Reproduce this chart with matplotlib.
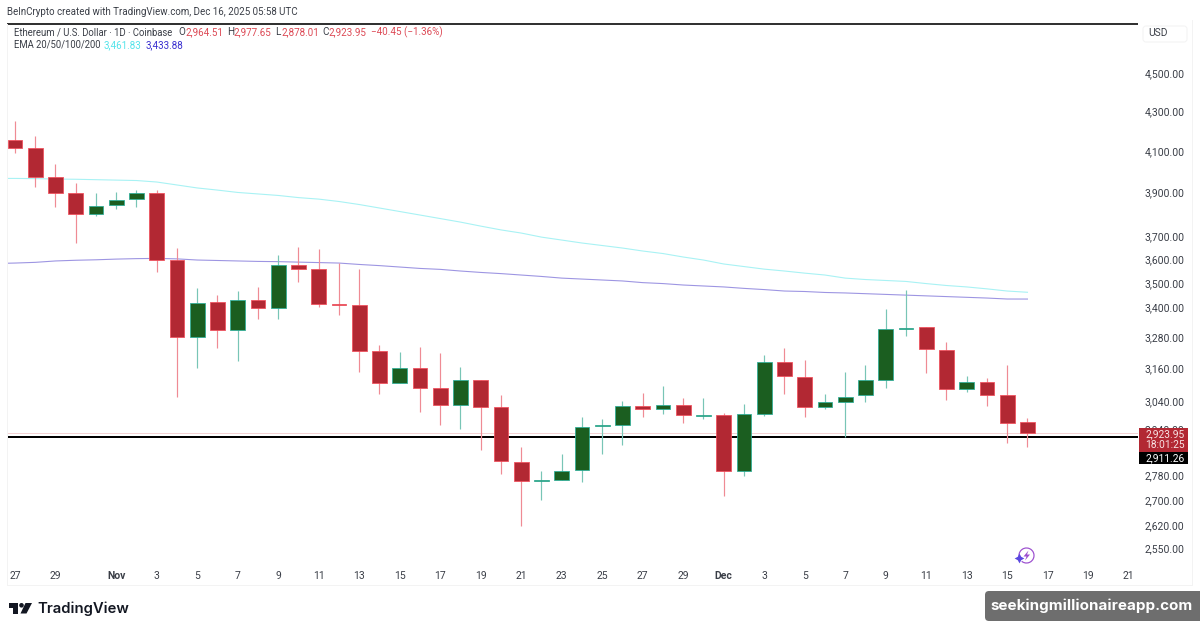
import matplotlib
matplotlib.use('Agg')
import matplotlib.pyplot as plt
from matplotlib.patches import Rectangle, FancyBboxPatch, Polygon, Arc, Circle

plt.rcParams['font.family'] = ['Roboto', 'DejaVu Sans']

# daily candles, 27 Oct = day 0
opens = [4154, 4114, 3974, 3898, 3802, 3843, 3870, 3898, 3598, 3281, 3422, 3309, 3430, 3397, 3577, 3559, 3414,
         3409, 3227, 3106, 3162, 3087, 3025, 3117, 3018, 2825, 2762, 2765, 2798, 2950, 2953, 3021, 3010, 3025,
         2987, 2989, 2795, 2993, 3185, 3128, 3018, 3036, 3061, 3117, 3313, 3321, 3231, 3084, 3110, 3061, 2964.51]
highs = [4249, 4173, 4036, 3945, 3898, 3903, 3912, 3912, 3650, 3480, 3450, 3467, 3484, 3619, 3654, 3645, 3585,
         3559, 3250, 3223, 3242, 3219, 3166, 3117, 3061, 2877, 2795, 2853, 2982, 2975, 3040, 3069, 3095, 3050,
         3050, 2996, 3029, 3211, 3238, 3192, 3065, 3147, 3173, 3393, 3471, 3321, 3262, 3132, 3125, 3173, 2977.65]
lows = [4089, 3926, 3834, 3672, 3793, 3824, 3834, 3547, 3054, 3162, 3238, 3188, 3353, 3353, 3505, 3401, 3369,
        3147, 3065, 3106, 3000, 2953, 2939, 2866, 2785, 2617, 2700, 2765, 2759, 2853, 2884, 2982, 2993, 2960,
        2975, 2713, 2779, 2985, 3065, 2982, 3010, 2911, 3036, 3087, 3285, 3143, 3043, 3073, 3021, 2890, 2878.01]
closes = [4114, 3974, 3898, 3802, 3838, 3866, 3898, 3598, 3281, 3418, 3309, 3430, 3397, 3577, 3559, 3414, 3409,
          3227, 3106, 3162, 3087, 3025, 3117, 3018, 2829, 2762, 2765, 2795, 2946, 2953, 3021, 3010, 3025, 2989,
          2989, 2795, 2993, 3185, 3132, 3018, 3036, 3054, 3117, 3313, 3317, 3235, 3084, 3110, 3061, 2960, 2923.95]

# one extra value in front, day -1 runs off the left edge
ema_cyan = [3967, 3967, 3966, 3964, 3963, 3961, 3959, 3957, 3950, 3936, 3922, 3912, 3901, 3894, 3887, 3877, 3870,
            3859, 3845, 3829, 3813, 3797, 3781, 3765, 3747, 3730, 3716, 3698, 3685, 3672, 3661, 3650, 3637, 3626,
            3611, 3598, 3581, 3570, 3559, 3551, 3542, 3534, 3521, 3515, 3511, 3507, 3498, 3490, 3484, 3476, 3467, 3461.83]
ema_blue = [3583, 3585, 3588, 3594, 3597, 3599, 3602, 3604, 3605, 3603, 3598, 3596, 3594, 3592, 3591, 3589, 3587,
            3585, 3579, 3574, 3568, 3562, 3558, 3551, 3545, 3540, 3534, 3528, 3521, 3517, 3513, 3509, 3502, 3498,
            3492, 3488, 3484, 3478, 3473, 3467, 3465, 3461, 3459, 3456, 3453, 3450, 3447, 3444, 3441, 3438, 3434, 3433.88]

last_price = 2923.95
black_level = 2911.26

price_ticks = [2550, 2620, 2700, 2780, 2940, 3040, 3160, 3280, 3400, 3500, 3600, 3700, 3900, 4100, 4300, 4500]
date_ticks = [0, 2] + list(range(5, 56, 2))
date_labels = ['27', '29', 'Nov', '3', '5', '7', '9', '11', '13', '15', '17', '19', '21', '23', '25', '27', '29',
               'Dec', '3', '5', '7', '9', '11', '13', '15', '17', '19', '21']

W, H = 1200, 631
RED, RED_EDGE, RED_WICK = '#b22833', '#f0505c', '#ef8b94'
GREEN, GREEN_EDGE, GREEN_WICK = '#1b5e20', '#2fae98', '#78c5b6'
TXT = '#3a3e47'
PX = 0.72  # one pixel in points

fig = plt.figure(figsize=(W / 100, H / 100), dpi=100, facecolor='white')
ax = fig.add_axes([7 / W, 1 - 563 / H, 1131 / W, 539 / H])
ax.set_yscale('log')
ax.set_xlim(-0.395, 55.46)
ax.set_ylim(2504, 4772)
for s in ax.spines.values():
    s.set_visible(False)

ax.axhline(last_price, color='#e9a6ab', lw=PX, ls=(0, (1, 1)), zorder=1)
ax.axhline(black_level, color='black', lw=2 * PX, zorder=1.5)

ema_days = list(range(-1, len(ema_cyan) - 1))
ax.plot(ema_days, ema_cyan, color='#a8f2f4', lw=1.1 * PX, zorder=2)
ax.plot(ema_days, ema_blue, color='#9d95e2', lw=1.1 * PX, zorder=2)

days = list(range(len(opens)))
up = [c >= o for o, c in zip(opens, closes)]
ax.vlines(days, lows, highs, colors=[GREEN_WICK if u else RED_WICK for u in up], lw=1.2 * PX, zorder=3)
ax.bar(days, [abs(c - o) for o, c in zip(opens, closes)], bottom=[min(o, c) for o, c in zip(opens, closes)],
       width=0.73, color=[GREEN if u else RED for u in up],
       edgecolor=[GREEN_EDGE if u else RED_EDGE for u in up], linewidth=0.8 * PX, zorder=4)

ax.minorticks_off()
ax.yaxis.tick_right()
ax.set_yticks(price_ticks)
ax.set_yticklabels([f'{p:,.2f}' for p in price_ticks])
ax.tick_params(axis='y', which='both', length=0, pad=5, labelsize=7.5, labelcolor=TXT)
ax.minorticks_off()
ax.set_xticks(date_ticks)
ax.set_xticklabels(date_labels)
ax.tick_params(axis='x', length=0, pad=6, labelsize=7.5, labelcolor=TXT)
for lab in ax.get_xticklabels():
    if lab.get_text() in ('Nov', 'Dec'):
        lab.set_fontweight('bold')

# overlay in image pixels for the header, price tags and logos
ov = fig.add_axes([0, 0, 1, 1], zorder=5)
ov.set_xlim(0, W)
ov.set_ylim(H, 0)
ov.axis('off')

ov.plot([7, 1138], [23.5, 23.5], color='black', lw=1.6 * PX, solid_capstyle='butt')
ov.plot([7, 7], [24, 585], color='#f3f3f3', lw=PX)
ov.plot([7, 1192, 1192], [585, 585, 20], color='#f3f3f3', lw=PX)

ov.text(7, 12, 'BeInCrypto created with TradingView.com, Dec 16, 2025 05:58 UTC', fontsize=7.0, color=TXT, va='center')

y1, y2 = 32, 45
ov.text(13.5, y1, 'Ethereum / U.S. Dollar · 1D · Coinbase', fontsize=6.85, color=TXT, va='center')
ov.text(13.5, y2, 'EMA 20/50/100/200', fontsize=6.85, color=TXT, va='center')
legend_bits = [(178, 'O', TXT), (185.5, '2,964.51', '#dd4a56'), (227, 'H', TXT), (234, '2,977.65', '#dd4a56'),
               (275, 'L', TXT), (281, '2,878.01', '#dd4a56'), (322, 'C', TXT), (328.5, '2,923.95', '#dd4a56'),
               (371, '−40.45 (−1.36%)', '#dd4a56')]
for x, s, c in legend_bits:
    ov.text(x, y1, s, fontsize=7.1, color=c, va='center')
ov.text(104, y2, '3,461.83', fontsize=7.1, color='#55e4ea', va='center')
ov.text(146, y2, '3,433.88', fontsize=7.1, color='#3a30d0', va='center')

ov.add_patch(FancyBboxPatch((1143, 26), 44, 16, boxstyle='round,pad=0,rounding_size=3', fc='white', ec='#f3f3f3', lw=PX))
ov.text(1148, 33, 'USD', fontsize=7.4, color=TXT, va='center')

ov.add_patch(Rectangle((1139, 428), 49, 24, fc=RED, ec='none'))
ov.add_patch(Rectangle((1139, 452), 49, 12, fc='black', ec='none'))
ov.text(1145, 434, '2,923.95', fontsize=7.4, color='#f8e4e5', va='center')
ov.text(1145, 445, '18:01:25', fontsize=7.4, color='#f8e4e5', va='center')
ov.text(1145, 458, '2,911.26', fontsize=7.4, color='white', va='center')

# TradingView mark
ov.add_patch(Polygon([(9, 603), (18, 603), (18, 613.5), (13, 613.5), (13, 608), (9, 608)], fc='#131722', ec='none'))
ov.add_patch(Circle((21.5, 605.3), 2.3, fc='#131722', ec='none'))
ov.add_patch(Polygon([(25.5, 603), (32, 603), (26.5, 613.5), (20.5, 613.5)], fc='#131722', ec='none'))
ov.text(37, 608.5, 'TradingView', fontsize=10.7, color='#131722', fontfamily=['Inter', 'DejaVu Sans'],
        fontweight='semibold', va='center')

# watermark
ov.add_patch(FancyBboxPatch((985, 591), 230, 30, boxstyle='round,pad=0,rounding_size=4', fc='#6e6e6e', ec='none'))
ov.text(990, 606, 'seekingmillionaireapp.com', fontsize=10.9, color='white', fontfamily=['Inter', 'DejaVu Sans'],
        fontweight='bold', va='center')

# lightning badge
ov.add_patch(Arc((1026.5, 555.5), 15, 15, theta1=-215, theta2=130, color='#9c4fcf', lw=1.2 * PX))
ov.add_patch(Polygon([(1028.5, 550.5), (1023.5, 556.5), (1026.5, 556.5), (1025, 560.5), (1030, 554.5), (1027, 554.5)],
                     fc='#9c4fcf', ec='none'))
ov.plot([1018.5], [558], marker=(4, 1, 0), ms=7, color='#5a48e0', mew=0)

fig.savefig('out.png', dpi=100)
